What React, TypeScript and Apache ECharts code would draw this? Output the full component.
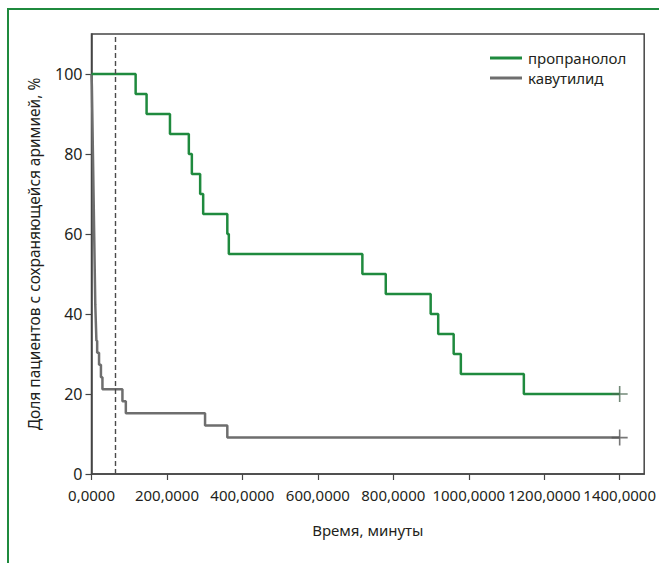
import React, { useEffect, useRef } from "react";
import * as echarts from "echarts";

const xTicks = [0, 200, 400, 600, 800, 1000, 1200, 1400];
const yTicks = [0, 20, 40, 60, 80, 100];

const propranololTimes = [0, 117, 146, 208, 258, 266, 288, 296, 360, 364, 718, 780, 899, 919, 960, 979, 1146, 1400];
const propranololValues = [100, 95, 90, 85, 80, 75, 70, 65, 60, 55, 50, 45, 40, 35, 30, 25, 20, 20];

const kavutilidTimes = [0, 1, 1.5, 2, 2.5, 3, 3.5, 4, 4.5, 5, 5.5, 6, 6.5, 7, 7.5, 8, 8.5, 9, 9.5, 10, 11, 12, 13, 15, 20, 25, 29, 82, 91, 301, 360, 1400];
const kavutilidValues = [100, 97.0, 93.9, 90.9, 87.9, 84.8, 81.8, 78.8, 75.8, 72.7, 69.7, 66.7, 63.6, 60.6, 57.6, 54.5, 51.5, 48.5, 45.5, 42.4, 39.4, 36.4, 33.3, 30.3, 27.3, 24.2, 21.2, 18.2, 15.2, 12.1, 9.1, 9.1];

const seriesNames = ["пропранолол", "кавутилид"];
const referenceTime = 62;
const xName = "Время, минуты";
const yName = "Доля пациентов с сохраняющейся аримией, %";

const GREEN = "#1f8a3e";
const GRAY = "#6e6e6e";
const TEXT = "#231f20";
const AXIS = "#454545";
const FONT = "'Noto Sans', sans-serif";

const plus = "path://M7.2,0H8.8V16H7.2Z M0,7.2H16V8.8H0Z";

export default function App() {
  const ref = useRef<HTMLDivElement>(null);
  useEffect(() => {
    if (!ref.current) return;
    const chart = echarts.init(ref.current, undefined, { renderer: "svg" });
    const pData = propranololTimes.map((t, i) => [t, propranololValues[i]]);
    const kData = kavutilidTimes.map((t, i) => [t, kavutilidValues[i]]);
    const pLast = pData[pData.length - 1];
    const kLast = kData[kData.length - 1];
    chart.setOption({
      animation: false,
      textStyle: { fontFamily: FONT, color: TEXT },
      grid: {
        left: 91.5,
        right: 14,
        top: 34,
        bottom: 89,
        show: true,
        borderColor: AXIS,
        borderWidth: 1.5,
        backgroundColor: "transparent",
      },
      legend: {
        left: 485,
        top: 43,
        orient: "vertical",
        itemWidth: 32,
        itemHeight: 3,
        itemGap: 0,
        icon: "rect",
        data: seriesNames,
        textStyle: { fontSize: 15, color: TEXT, lineHeight: 20, fontFamily: FONT, padding: [0, 0, 0, 1] },
      },
      xAxis: {
        type: "value",
        min: 0,
        max: 1465,
        interval: 200,
        name: xName,
        nameLocation: "middle",
        nameGap: 48,
        nameTextStyle: { fontSize: 15, color: TEXT, fontFamily: FONT },
        splitLine: { show: false },
        axisLine: { show: true, lineStyle: { color: AXIS, width: 1.5 } },
        axisTick: { show: true, length: 6, lineStyle: { color: AXIS, width: 1.2 } },
        axisLabel: {
          fontSize: 15,
          lineHeight: 15,
          color: TEXT,
          margin: 13,
          showMaxLabel: false,
          formatter: (v: number) => (xTicks.includes(v) ? v.toFixed(4).replace(".", ",") : ""),
        },
      },
      yAxis: {
        type: "value",
        min: 0,
        max: 110,
        interval: 20,
        name: yName,
        nameLocation: "middle",
        nameGap: 50,
        nameTextStyle: { fontSize: 15.5, color: TEXT, fontFamily: FONT },
        splitLine: { show: false },
        axisLine: { show: true, lineStyle: { color: AXIS, width: 1.5 } },
        axisTick: { show: true, length: 6, lineStyle: { color: AXIS, width: 1.2 } },
        axisLabel: {
          fontSize: 16,
          lineHeight: 14,
          color: TEXT,
          margin: 9,
          showMaxLabel: false,
          formatter: (v: number) => (yTicks.includes(v) ? String(v) : ""),
        },
      },
      series: [
        {
          name: seriesNames[0],
          type: "line",
          step: "end",
          data: pData,
          showSymbol: false,
          symbol: "none",
          lineStyle: { color: GREEN, width: 2.5 },
          itemStyle: { color: GREEN },
          z: 3,
        },
        {
          name: seriesNames[1],
          type: "line",
          step: "end",
          data: kData,
          showSymbol: false,
          symbol: "none",
          lineStyle: { color: GRAY, width: 2.5 },
          itemStyle: { color: GRAY },
          z: 2,
          markLine: {
            silent: true,
            symbol: "none",
            label: { show: false },
            lineStyle: { color: "#4a4a4a", width: 1.4, type: [5, 3] },
            data: [{ xAxis: referenceTime }],
          },
        },
        {
          name: "censor-p",
          type: "scatter",
          data: [pLast],
          symbol: plus,
          symbolSize: 16,
          itemStyle: { color: "#4f6b55" },
          z: 4,
        },
        {
          name: "censor-k",
          type: "scatter",
          data: [kLast],
          symbol: plus,
          symbolSize: 16,
          itemStyle: { color: "#555" },
          z: 4,
        },
      ],
    });
    return () => chart.dispose();
  }, []);
  return (
    <div style={{ position: "fixed", left: 0, top: 0, width: 659, height: 563, background: "#fff", overflow: "hidden" }}>
      <div
        style={{
          position: "absolute",
          left: 7,
          top: 8,
          width: 700,
          height: 600,
          borderLeft: `2.5px solid ${GREEN}`,
          borderTop: `2.5px solid ${GREEN}`,
        }}
      />
      <div ref={ref} style={{ position: "absolute", left: 0, top: 0, width: 659, height: 563 }} />
    </div>
  );
}
